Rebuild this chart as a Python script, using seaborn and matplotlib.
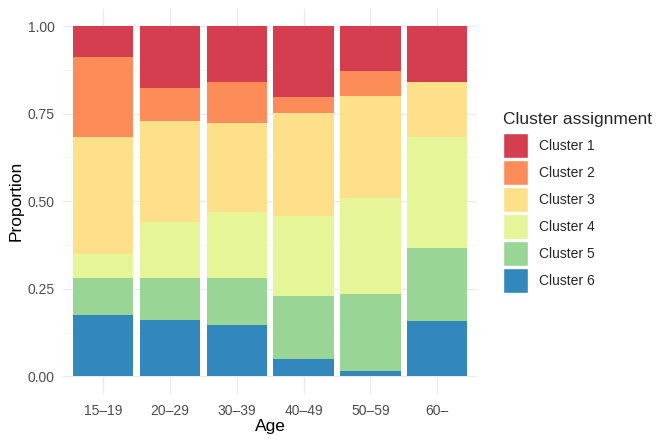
import matplotlib
matplotlib.use("Agg")
import matplotlib.pyplot as plt
from matplotlib.patches import Patch
import seaborn as sns
import pandas as pd

ages = ["15–19", "20–29", "30–39", "40–49", "50–59", "60–"]
clusters = ["Cluster 1", "Cluster 2", "Cluster 3", "Cluster 4", "Cluster 5", "Cluster 6"]
cluster1 = [0.089, 0.177, 0.159, 0.203, 0.127, 0.159]
cluster2 = [0.228, 0.095, 0.119, 0.044, 0.074, 0.000]
cluster3 = [0.333, 0.288, 0.253, 0.296, 0.291, 0.158]
cluster4 = [0.069, 0.159, 0.187, 0.226, 0.273, 0.315]
cluster5 = [0.106, 0.119, 0.135, 0.181, 0.218, 0.211]
cluster6 = [0.175, 0.162, 0.147, 0.050, 0.017, 0.157]
yticks = [0.00, 0.25, 0.50, 0.75, 1.00]
ytick_labels = ["0.00", "0.25", "0.50", "0.75", "1.00"]
colors = ["#D53E4F", "#FC8D59", "#FEE08B", "#E6F598", "#99D594", "#3288BD"]

series = [cluster1, cluster2, cluster3, cluster4, cluster5, cluster6]
rows = []
for cl, vals in zip(clusters, series):
    for a, v in zip(ages, vals):
        rows.append({"Age": a, "Cluster": cl, "Proportion": v})
df = pd.DataFrame(rows)
df["Age"] = pd.Categorical(df["Age"], categories=ages, ordered=True)

sns.set_theme(style="white")
plt.rcParams["font.family"] = ["Liberation Sans", "DejaVu Sans"]

fig = plt.figure(figsize=(6.64, 4.43), dpi=100)
ax = fig.add_axes([62.8 / 664, 1 - 394.0 / 443, (477.5 - 62.8) / 664, (394.0 - 8.5) / 443])

palette = dict(zip(clusters, colors))
sns.histplot(data=df, x="Age", weights="Proportion", hue="Cluster",
             hue_order=clusters, multiple="fill", discrete=True, shrink=0.9,
             palette=palette, alpha=1, linewidth=0, legend=False, ax=ax, zorder=2)

ax.set_xlim(-0.6, len(ages) - 0.4)
ax.set_ylim(-0.05, 1.05)
ax.set_xticks(range(len(ages)))
ax.set_xticklabels(ages)
ax.set_yticks(yticks)
ax.set_yticklabels(ytick_labels)
ax.set_yticks([0.125, 0.375, 0.625, 0.875], minor=True)
ax.grid(True, which="major", color="#EBEBEB", linewidth=1.0, zorder=0)
ax.grid(True, which="minor", axis="y", color="#F4F4F4", linewidth=0.6, zorder=0)
ax.set_axisbelow(True)
for s in ax.spines.values():
    s.set_visible(False)
ax.tick_params(axis="both", which="both", length=0, labelsize=10, labelcolor="#4D4D4D")
ax.tick_params(axis="y", pad=6)
ax.tick_params(axis="x", pad=7)
ax.set_xlabel("Age", fontsize=12.5, color="black", labelpad=1)
ax.set_ylabel("Proportion", fontsize=12.5, color="black", labelpad=3)

handles = [Patch(facecolor=c, edgecolor="white", linewidth=1.0) for c in colors]
leg = fig.legend(handles, clusters, title="Cluster assignment", loc="upper left",
                 bbox_to_anchor=(499 / 664, 1 - 108 / 443), frameon=False,
                 fontsize=10, title_fontsize=12.5, handlelength=1.8, handleheight=2.39,
                 labelspacing=0.15, handletextpad=0.75, borderaxespad=0, borderpad=0.3)
leg._legend_box.align = "left"
leg._legend_box.sep = 4.2

fig.savefig("out.png", dpi=100)
